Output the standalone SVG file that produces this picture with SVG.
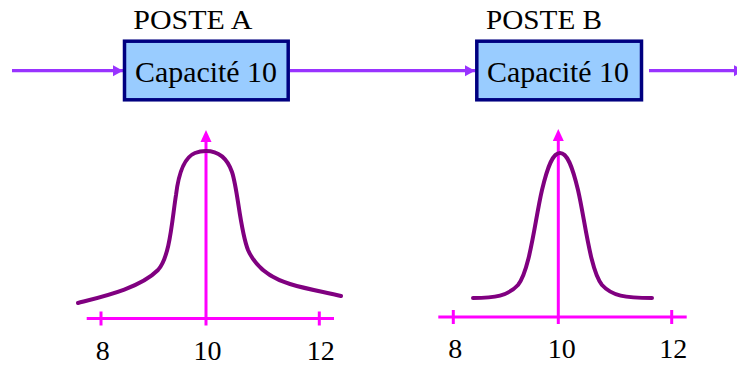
<svg xmlns="http://www.w3.org/2000/svg" width="737" height="366" viewBox="0 0 737 366">
<style>
.box{fill:#99CCFF;stroke:#000080;stroke-width:3.5}
.t{fill:#000}
.flow{stroke:#9933FF;stroke-width:3.2;fill:none}
.axis{stroke:#FF00FF;stroke-width:3;fill:none}
.curve{stroke:#800080;stroke-width:4;fill:none;stroke-linecap:round}
</style>
<defs>
<marker id="fa" markerUnits="userSpaceOnUse" markerWidth="12" markerHeight="12" refX="10" refY="5.5" orient="auto">
<path d="M0,0 L10,5.5 L0,11 Z" fill="#9933FF"/>
</marker>
</defs>
<g id="connectors">
<line class="flow" x1="12" y1="70.7" x2="123" y2="70.7" marker-end="url(#fa)"/>
<line class="flow" x1="290" y1="70.7" x2="475" y2="70.7" marker-end="url(#fa)"/>
<line class="flow" x1="649" y1="70.7" x2="744" y2="70.7" marker-end="url(#fa)"/>
</g>
<g id="posteA" font-family="'Liberation Serif', 'DejaVu Serif', serif">
<text class="t" x="133.3" y="29.3" font-size="27" textLength="119" lengthAdjust="spacingAndGlyphs">POSTE A</text>
<rect class="box" x="124.5" y="41.2" width="163.7" height="58.6"/>
<text class="t" x="135" y="82" font-size="29" textLength="142" lengthAdjust="spacingAndGlyphs">Capacité 10</text>
</g>
<g id="posteB" font-family="'Liberation Serif', 'DejaVu Serif', serif">
<text class="t" x="486" y="29.3" font-size="27" textLength="116" lengthAdjust="spacingAndGlyphs">POSTE B</text>
<rect class="box" x="476.8" y="41.2" width="164.7" height="58.6"/>
<text class="t" x="487" y="82" font-size="29" textLength="142" lengthAdjust="spacingAndGlyphs">Capacité 10</text>
</g>
<g id="graphA" font-family="'Liberation Serif', 'DejaVu Serif', serif">
<line class="axis" x1="86.7" y1="318.5" x2="334" y2="318.5"/>
<line class="axis" x1="101" y1="311.5" x2="101" y2="325.5"/>
<line class="axis" x1="319.3" y1="311.5" x2="319.3" y2="325.5"/>
<line class="axis" x1="206" y1="325.5" x2="206" y2="141"/>
<path d="M200.5,142 L206,130 L211.5,142 Z" fill="#FF00FF"/>
<path class="curve" d="M78,303 C105,296 140,288 158,270 C170,257 172,220 176,195 C179,170 185,157 195,153 C200,151 203,151 206,151 C215,151 226,155 232,172 C238,190 240,230 248,250 C256,268 270,278 290,284 C310,290 325,292 341,296"/>
<text class="t" x="102.7" y="359.5" font-size="28" text-anchor="middle">8</text>
<text class="t" x="207.5" y="359.5" font-size="28" text-anchor="middle">10</text>
<text class="t" x="320.7" y="359.5" font-size="28" text-anchor="middle">12</text>
</g>
<g id="graphB" font-family="'Liberation Serif', 'DejaVu Serif', serif">
<line class="axis" x1="438.3" y1="317" x2="686.7" y2="317"/>
<line class="axis" x1="453.3" y1="310" x2="453.3" y2="324"/>
<line class="axis" x1="671.7" y1="310" x2="671.7" y2="324"/>
<line class="axis" x1="558.3" y1="324" x2="558.3" y2="140"/>
<path d="M552.8,141 L558.3,129 L563.8,141 Z" fill="#FF00FF"/>
<path class="curve" d="M473,298 C495,298 508,296 518,285 C530,270 535,220 542,190 C548,165 553,153 560,153 C567,153 572,165 578,190 C585,220 590,270 602,285 C612,296 625,298 652,298"/>
<text class="t" x="455.3" y="357.5" font-size="28" text-anchor="middle">8</text>
<text class="t" x="561.7" y="357.5" font-size="28" text-anchor="middle">10</text>
<text class="t" x="673.3" y="357.5" font-size="28" text-anchor="middle">12</text>
</g>
</svg>
